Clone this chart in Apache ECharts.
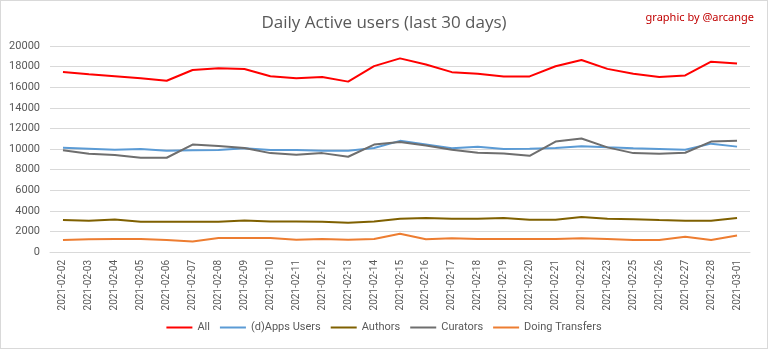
<!DOCTYPE html>
<html><head><meta charset="utf-8">
<script src="https://cdn.jsdelivr.net/npm/echarts@6/dist/echarts.min.js"></script>
<style>html,body{margin:0;padding:0;background:#fff}#c{width:768px;height:349px;box-sizing:border-box;border:1px solid #d9d9d9}</style>
</head><body><div id="c"></div>
<script>
const categories = ['2021-02-02','2021-02-03','2021-02-04','2021-02-05','2021-02-06','2021-02-07','2021-02-08','2021-02-09','2021-02-10','2021-02-11','2021-02-12','2021-02-13','2021-02-14','2021-02-15','2021-02-16','2021-02-17','2021-02-18','2021-02-19','2021-02-20','2021-02-21','2021-02-22','2021-02-23','2021-02-25','2021-02-26','2021-02-27','2021-02-28','2021-03-01'];
const allUsers = [17480,17260,17070,16880,16630,17670,17830,17760,17070,16880,16980,16540,18050,18800,18200,17460,17300,17050,17050,18030,18640,17780,17300,16980,17140,18480,18290];
const appsUsers = [10130,10030,9930,10000,9840,9870,9900,10070,9900,9900,9840,9840,10100,10790,10430,10070,10230,10000,10030,10100,10260,10160,10070,10000,9930,10520,10230];
const authors = [3100,3030,3150,2940,2940,2940,2940,3060,2970,2970,2940,2840,2970,3230,3290,3230,3230,3290,3130,3130,3390,3230,3190,3100,3030,3030,3290];
const curators = [9870,9540,9410,9150,9150,10430,10300,10100,9600,9450,9600,9250,10430,10690,10330,9930,9640,9570,9340,10720,11020,10160,9600,9540,9640,10720,10790];
const transfers = [1160,1230,1260,1260,1160,1020,1350,1350,1350,1190,1260,1190,1260,1770,1230,1330,1260,1260,1260,1260,1330,1260,1160,1160,1480,1160,1610];
const seriesNames = ['All','(d)Apps Users','Authors','Curators','Doing Transfers'];
const seriesData = [allUsers, appsUsers, authors, curators, transfers];
const colors = ['#ff0000','#5b9bd5','#7f6000','#6e6e6e','#ed7d31'];
const yTicks = {min:0, max:20000, interval:2000};

const font = 'Roboto, Liberation Sans, sans-serif';
const chart = echarts.init(document.getElementById('c'));
chart.setOption({
  animation:false,
  textStyle:{fontFamily:font},
  title:[{text:'Daily Active users (last 30 days)', left:'center', top:9,
    textStyle:{fontSize:17, fontWeight:'normal', color:'#595959', fontFamily:'Open Sans, Noto Sans, sans-serif'}},
    {text:'graphic by @arcange', right:8, top:6,
    textStyle:{fontSize:11, fontWeight:'normal', color:'#c00000', fontFamily:'Noto Sans, sans-serif'}}],
  grid:{left:49, right:17, top:45, bottom:96},
  legend:{bottom:10, left:'center', itemWidth:26, itemHeight:2, itemGap:10,
    icon:'rect',
    textStyle:{fontSize:11, color:'#595959', fontFamily:font},
    data:seriesNames},
  xAxis:{type:'category', data:categories, boundaryGap:true,
    axisLine:{lineStyle:{color:'#d9d9d9'}}, axisTick:{show:false},
    axisLabel:{rotate:90, fontSize:10, color:'#595959', interval:0, margin:8, fontFamily:font}},
  yAxis:{type:'value', min:yTicks.min, max:yTicks.max, interval:yTicks.interval,
    axisLine:{show:false}, axisTick:{show:false},
    splitLine:{lineStyle:{color:'#d9d9d9'}},
    axisLabel:{fontSize:11, color:'#595959', margin:10, fontFamily:font, formatter:v=>String(v)}},
  series: seriesNames.map((n,i)=>({name:n, type:'line', data:seriesData[i], symbol:'none',
    itemStyle:{color:colors[i]}, lineStyle:{width:2, color:colors[i]}}))
});
</script></body></html>
